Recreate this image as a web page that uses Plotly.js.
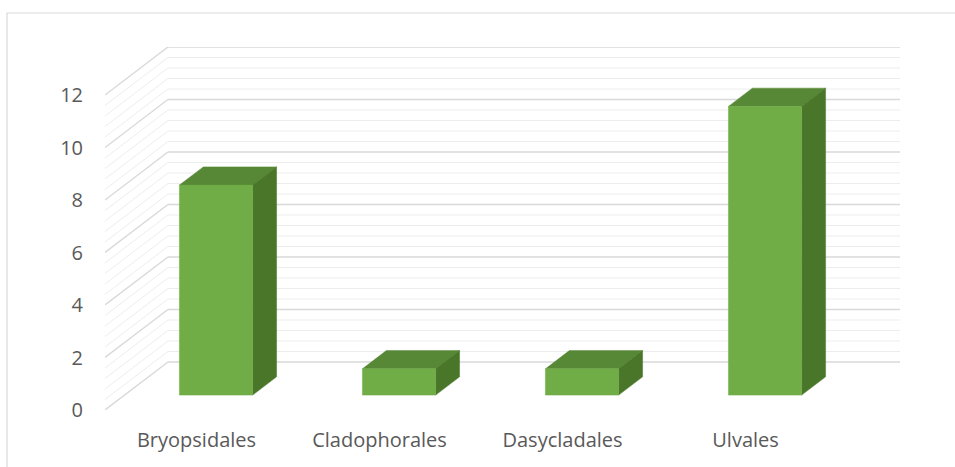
<!DOCTYPE html>
<html>
<head>
<meta charset="utf-8">
<script src="https://cdn.plot.ly/plotly-3.0.1.min.js"></script>
<style>
  html, body { margin: 0; padding: 0; background: #ffffff; }
  #chart { width: 955px; height: 467px; }
</style>
</head>
<body>
<div id="chart"></div>
<script>
// Number of species per order of green algae
const categories = ['Bryopsidales', 'Cladophorales', 'Dasycladales', 'Ulvales'];
const counts = [8, 1, 1, 11];

// Value axis ticks
const yTickValues = [0, 2, 4, 6, 8, 10, 12];
const yMax = 12;
const majorStep = 2;
const minorStep = 0.4;

// Oblique projection used for the 3D look (in axis units)
const DEPTH_X = 0.344;   // horizontal shift from front plane to back wall
const DEPTH_Y = 1.829;   // vertical shift from front plane to back wall
const BAR_HALF = 0.2;    // half width of a bar
const BAR_D0 = 0.31;     // bar front face depth
const BAR_D1 = 0.69;     // bar back face depth

const FRONT = '#70AD47';
const TOP = '#568836';
const SIDE = '#4A7629';
const MAJOR = '#D9D9D9';
const MINOR = '#EDEDED';

function proj(x, v, d) {
  return [x + d * DEPTH_X, v + d * DEPTH_Y];
}

const xLeft = -0.5;
const xRight = categories.length - 0.5;
const traces = [];

function line(p, q, color, width) {
  traces.push({
    type: 'scatter', mode: 'lines',
    x: [p[0], q[0]], y: [p[1], q[1]],
    line: { color: color, width: width },
    hoverinfo: 'skip', showlegend: false
  });
}

function face(pts, color) {
  traces.push({
    type: 'scatter', mode: 'lines', fill: 'toself',
    x: pts.map(p => p[0]).concat([pts[0][0]]),
    y: pts.map(p => p[1]).concat([pts[0][1]]),
    fillcolor: color,
    line: { color: color, width: 0.5 },
    hoverinfo: 'skip', showlegend: false
  });
}

// Walls: minor lines first, then major lines on top
const nSteps = Math.round(yMax / minorStep);
[false, true].forEach(majorPass => {
  for (let k = 0; k <= nSteps; k++) {
    const v = k * minorStep;
    const isMajor = Math.abs(v / majorStep - Math.round(v / majorStep)) < 1e-6;
    if (isMajor !== majorPass) continue;
    const color = isMajor ? MAJOR : MINOR;
    const w = isMajor ? 1.4 : 1;
    // back wall
    line(proj(xLeft, v, 1), proj(xRight, v, 1), color, w);
    // side wall
    line(proj(xLeft, v, 0), proj(xLeft, v, 1), color, w);
  }
});

// Bars as three visible faces
counts.forEach((val, i) => {
  const l = i - BAR_HALF, r = i + BAR_HALF;
  // top face
  face([proj(l, val, BAR_D0), proj(r, val, BAR_D0), proj(r, val, BAR_D1), proj(l, val, BAR_D1)], TOP);
  // right side face
  face([proj(r, 0, BAR_D0), proj(r, 0, BAR_D1), proj(r, val, BAR_D1), proj(r, val, BAR_D0)], SIDE);
  // front face
  face([proj(l, 0, BAR_D0), proj(r, 0, BAR_D0), proj(r, val, BAR_D0), proj(l, val, BAR_D0)], FRONT);
});

const font = { family: '"Open Sans", "Liberation Sans", sans-serif', size: 20, color: '#595959' };

const layout = {
  width: 955, height: 467,
  margin: { l: 105, r: 55, t: 47, b: 57 },
  paper_bgcolor: '#ffffff', plot_bgcolor: '#ffffff',
  showlegend: false,
  font: font,
  xaxis: {
    range: [xLeft, xRight + DEPTH_X],
    tickvals: categories.map((c, i) => i),
    ticktext: categories,
    showgrid: false, zeroline: false, showline: false,
    ticks: '', ticklabelstandoff: 16,
    tickfont: font, fixedrange: true
  },
  yaxis: {
    range: [0, yMax + DEPTH_Y],
    tickvals: yTickValues,
    ticktext: yTickValues.map(String),
    showgrid: false, zeroline: false, showline: false,
    ticks: '', ticklabelstandoff: 21,
    tickfont: font, fixedrange: true
  },
  shapes: [{
    type: 'rect', xref: 'paper', yref: 'paper',
    x0: -0.1233, x1: 1.2, y0: -0.3, y1: 1.0937,
    line: { color: '#D9D9D9', width: 1.2 }, layer: 'below'
  }]
};

Plotly.newPlot('chart', traces, layout, { staticPlot: true, displayModeBar: false });
</script>
</body>
</html>
